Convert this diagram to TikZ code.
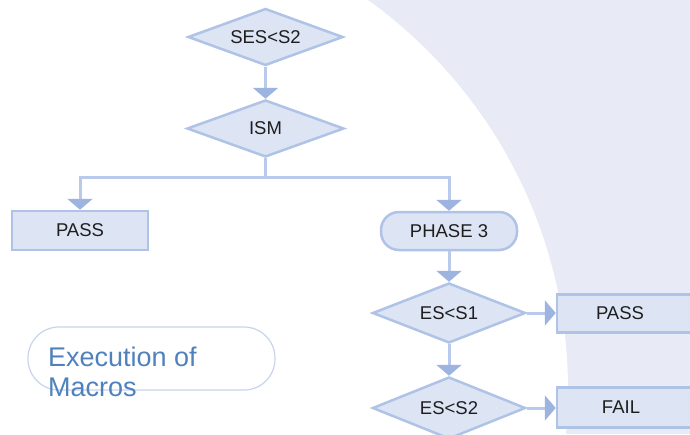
\documentclass[tikz,border=0pt]{standalone}
\usepackage{fontspec}
\setmainfont{Liberation Sans}
\usetikzlibrary{shapes.geometric,arrows.meta}
\definecolor{lav}{RGB}{232,234,246}
\definecolor{fillc}{RGB}{221,228,244}
\definecolor{borderc}{RGB}{175,195,230}
\definecolor{linec}{RGB}{186,202,236}
\definecolor{arrowc}{RGB}{157,180,224}
\definecolor{txtc}{RGB}{30,30,30}
\definecolor{execb}{RGB}{200,212,238}
\definecolor{exectxt}{RGB}{79,129,189}
\begin{document}
\begin{tikzpicture}[x=1pt,y=-1pt,
  flow/.style={draw=borderc,line width=2.5pt,fill=fillc,text=txtc,
    font=\fontsize{18.5}{21}\selectfont,inner sep=0pt},
  dia/.style={flow,diamond,aspect=2.7},
  boxr/.style={flow,rectangle},
  conn/.style={draw=linec,line width=3pt,
    -{Triangle[width=25pt,length=11pt,color=arrowc]}},
]
\useasboundingbox (0,0) rectangle (690,434);
\begin{scope}
\clip (0,0) rectangle (690,434);
\fill[lav] (0,0) rectangle (690,434);
\fill[white] (88,390) circle[radius=480pt];

\node[dia,minimum width=155pt,minimum height=57pt] (d1) at (265.5,37) {SES<S2};
\node[dia,minimum width=157pt,minimum height=57pt] (d2) at (265.5,128.5) {ISM};
\node[boxr,minimum width=136pt,minimum height=39pt] (pass1) at (80,230.5) {PASS};
\node[flow,rounded corners=18pt,minimum width=136pt,minimum height=38pt] (ph3) at (449,231) {PHASE 3};
\node[dia,minimum width=153pt,minimum height=60pt] (d3) at (449,313) {ES<S1};
\node[dia,minimum width=153pt,minimum height=62pt] (d4) at (449,408) {ES<S2};
\node[boxr,minimum width=140pt,minimum height=38pt,
  label={[text=txtc,font=\fontsize{18.5}{21}\selectfont,xshift=-7pt]center:PASS}] (pass2) at (627,313.5) {};
\node[boxr,minimum width=140pt,minimum height=40pt,
  label={[text=txtc,font=\fontsize{18.5}{21}\selectfont,xshift=-6pt]center:FAIL}] (fail) at (627,407.5) {};

\draw[conn] (d1.south) -- (d2.north);
\draw[conn] (d2.south) -- ++(0,19) coordinate (j) -| (pass1.north);
\draw[conn] (j) -| (ph3.north);
\draw[conn] (ph3.south) -- (d3.north);
\draw[conn] (d3.south) -- (d4.north);
\draw[conn] (d3.east) -- (d3.east -| pass2.west);
\draw[conn] (d4.east) -- (d4.east -| fail.west);

\node[draw=execb,line width=1.2pt,rounded corners=31pt,minimum width=247pt,
  minimum height=63pt,inner sep=0pt] (exec) at (151.5,358.5) {};
\node[anchor=north west,align=left,inner sep=0pt,text=exectxt,
  font=\fontsize{27}{30}\selectfont] (exectext) at (48,347) {Execution of\\Macros};
\end{scope}
\end{tikzpicture}
\end{document}
